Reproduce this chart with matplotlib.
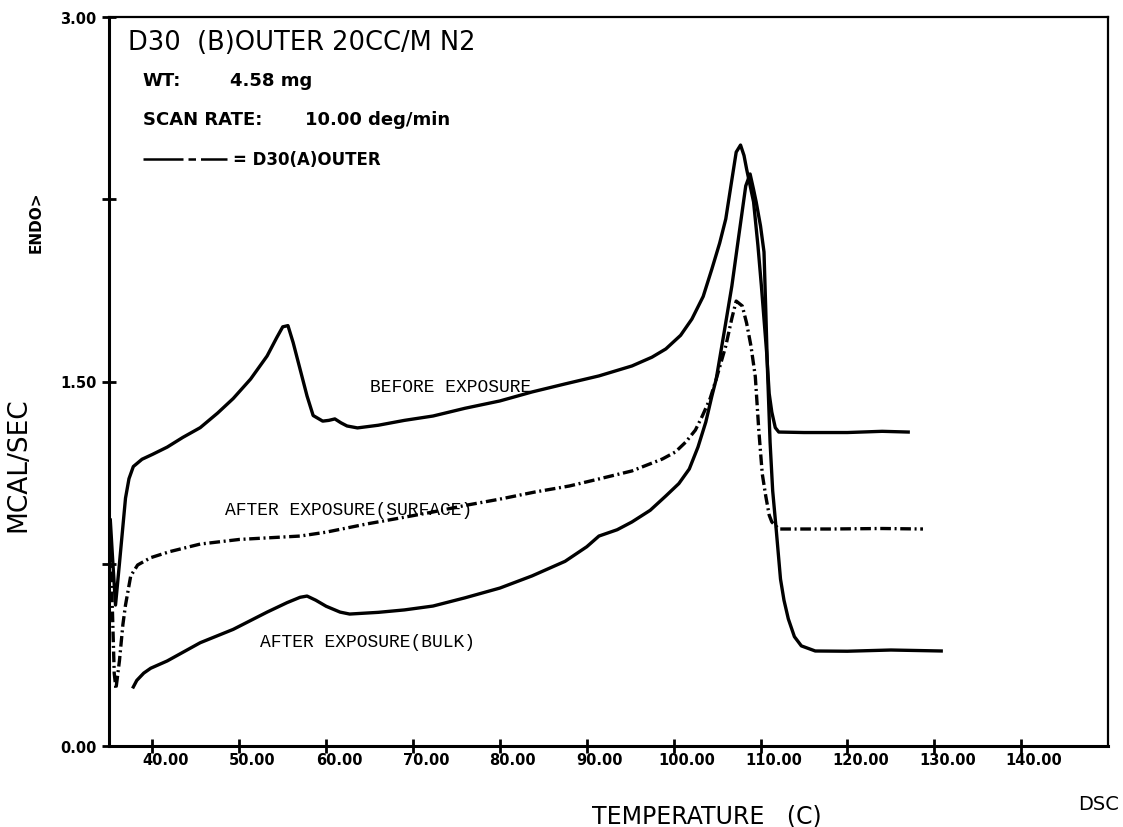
import matplotlib
matplotlib.use('Agg')
import matplotlib.pyplot as plt
from matplotlib.transforms import ScaledTranslation

# Traces (temperature C, mcal/sec)

before_t = [35.15, 35.4, 35.75, 36.2, 36.9, 37.3, 37.8, 38.8, 40.0, 41.7, 43.5, 45.5,
            47.5, 49.3, 51.3, 53.2, 54.3, 55.0, 55.6, 56.2, 57.0, 57.8, 58.5, 59.6,
            60.3, 61.0, 61.7, 62.4, 63.6, 66.0, 69.0, 72.3, 76.0, 80.0, 83.7, 87.5,
            91.4, 95.2, 97.5, 99.1, 100.8, 102.1, 103.4, 104.4, 105.3, 106.0, 106.7,
            107.2, 107.7, 108.1, 108.4, 109.2, 109.7, 110.1, 110.7, 111.0, 111.3,
            111.7, 112.1, 115.0, 120.0, 124.0, 127.0]
before_y = [0.93, 0.78, 0.58, 0.75, 1.02, 1.10, 1.15, 1.18, 1.20, 1.23, 1.27, 1.31,
            1.37, 1.43, 1.51, 1.605, 1.68, 1.725, 1.73, 1.66, 1.55, 1.44, 1.36, 1.337,
            1.34, 1.346, 1.33, 1.317, 1.309, 1.32, 1.34, 1.358, 1.39, 1.42, 1.457, 1.49,
            1.523, 1.564, 1.60, 1.634, 1.69, 1.757, 1.85, 1.963, 2.07, 2.169, 2.33,
            2.444, 2.473, 2.43, 2.374, 2.239, 2.06, 1.893, 1.621, 1.45, 1.374,
            1.31, 1.292, 1.29, 1.29, 1.295, 1.292]

surface_t = [35.15, 35.4, 35.6, 35.8, 36.2, 36.6, 36.9, 37.5, 38.3, 39.8, 42.0, 45.5,
             50.0, 55.0, 57.0, 60.0, 64.7, 68.0, 72.3, 76.0, 80.0, 84.0, 88.0, 91.4,
             95.2, 98.7, 100.2, 101.4, 102.5, 103.3, 104.2, 104.9, 106.0, 106.7, 107.2,
             107.9, 108.4, 108.9, 109.4, 109.8, 110.2, 110.6, 111.0, 111.3, 112.1,
             118.0, 124.0, 128.7]
surface_y = [0.80, 0.55, 0.30, 0.235, 0.35, 0.50, 0.58, 0.70, 0.745, 0.775, 0.80, 0.831,
             0.85, 0.86, 0.864, 0.88, 0.914, 0.935, 0.963, 0.99, 1.016, 1.045, 1.07, 1.099,
             1.132, 1.181, 1.21, 1.251, 1.30, 1.358, 1.43, 1.51, 1.646, 1.76, 1.831,
             1.811, 1.74, 1.646, 1.52, 1.30, 1.12, 1.029, 0.95, 0.922, 0.893,
             0.893, 0.895, 0.893]

bulk_t = [37.8, 38.2, 39.0, 39.8, 41.7, 45.5, 49.3, 53.2, 55.5, 57.0, 57.8, 58.8, 60.0,
          61.6, 62.7, 66.0, 69.0, 72.3, 76.0, 80.0, 83.7, 87.5, 90.0, 91.4, 93.5, 95.2,
          97.3, 99.1, 100.6, 101.8, 102.8, 103.7, 104.4, 104.9, 105.8, 106.7, 107.5,
          108.3, 108.8, 109.2, 109.5, 110.0, 110.4, 110.6, 110.8, 111.1, 111.4, 111.8,
          112.3, 112.7, 113.2, 113.9, 114.7, 116.3, 120.0, 125.0, 130.8]
bulk_y = [0.243, 0.27, 0.30, 0.32, 0.35, 0.425, 0.48, 0.551, 0.59, 0.612, 0.617, 0.60, 0.575,
          0.551, 0.543, 0.55, 0.56, 0.576, 0.61, 0.65, 0.70, 0.76, 0.82, 0.864, 0.89, 0.922,
          0.97, 1.029, 1.08, 1.14, 1.23, 1.333, 1.44, 1.51, 1.70, 1.893, 2.10,
          2.305, 2.354, 2.29, 2.239, 2.14, 2.033, 1.80, 1.55, 1.25, 1.05, 0.893,
          0.687, 0.60, 0.523, 0.45, 0.412, 0.391, 0.39, 0.395, 0.391]

x_ticks = [40, 50, 60, 70, 80, 90, 100, 110, 120, 130, 140]
x_tick_labels = ['40.00', '50.00', '60.00', '70.00', '80.00', '90.00', '100.00',
                 '110.00', '120.00', '130.00', '140.00']
y_ticks = [0, 0.75, 1.5, 2.25, 3.0]
y_tick_labels = ['0.00', '', '1.50', '', '3.00']

# Figure

fig = plt.figure(figsize=(11.23, 8.28), dpi=100)
ax = fig.add_axes([109 / 1123, 81 / 828, 999 / 1123, 729 / 828])

lw = 2.4
ax.plot(before_t, before_y, color='black', lw=lw, solid_joinstyle='round')
ax.plot(surface_t, surface_y, color='black', lw=lw, dashes=(3.2, 1.1, 0.6, 1.1))
ax.plot(bulk_t, bulk_y, color='black', lw=lw, solid_joinstyle='round')

ax.set_xlim(35, 150)
ax.set_ylim(0, 3)
ax.set_xticks(x_ticks)
ax.set_xticklabels(x_tick_labels, fontsize=10.5, fontweight='bold')
ax.set_yticks(y_ticks)
ax.set_yticklabels(y_tick_labels, fontsize=10.5, fontweight='bold')
ax.tick_params(axis='both', direction='inout', length=10, width=2)
ax.tick_params(axis='x', pad=-1)
ax.tick_params(axis='y', pad=4)
shift = ScaledTranslation(13 / 100, 0, fig.dpi_scale_trans)
for lab in ax.get_xticklabels():
    lab.set_transform(lab.get_transform() + shift)

for side in ['left', 'bottom']:
    ax.spines[side].set_linewidth(2.2)
for side in ['top', 'right']:
    ax.spines[side].set_linewidth(1.6)

# Header text inside the plot

ax.text(0.019, 0.966, 'D30  (B)OUTER 20CC/M N2', transform=ax.transAxes,
        fontsize=18.5, va='center')
ax.text(0.034, 0.914, 'WT:', transform=ax.transAxes, fontsize=13,
        fontweight='bold', va='center')
ax.text(0.121, 0.914, '4.58 mg', transform=ax.transAxes, fontsize=13,
        fontweight='bold', va='center')
ax.text(0.034, 0.860, 'SCAN RATE:', transform=ax.transAxes, fontsize=13,
        fontweight='bold', va='center')
ax.text(0.196, 0.860, '10.00 deg/min', transform=ax.transAxes, fontsize=13,
        fontweight='bold', va='center')
ax.plot([0.034, 0.118], [0.805, 0.805], transform=ax.transAxes, color='black',
        lw=1.8, dashes=(16, 2, 3, 2))
ax.text(0.124, 0.805, '= D30(A)OUTER', transform=ax.transAxes, fontsize=12,
        fontweight='bold', va='center')

# Curve labels

mono = 'Liberation Mono'
ax.text(0.261, 0.4925, 'BEFORE EXPOSURE', transform=ax.transAxes,
        fontsize=13, family=mono, va='center')
ax.text(0.116, 0.324, 'AFTER EXPOSURE(SURFACE)', transform=ax.transAxes,
        fontsize=13, family=mono, va='center')
ax.text(0.151, 0.143, 'AFTER EXPOSURE(BULK)', transform=ax.transAxes,
        fontsize=13, family=mono, va='center')

# Outer labels

fig.text(18 / 1123, 1 - 465 / 828, 'MCAL/SEC', rotation=90, fontsize=19,
         ha='center', va='center')
fig.text(36 / 1123, 1 - 222 / 828, 'ENDO>', rotation=90, fontsize=11,
         fontweight='bold', ha='center', va='center')
fig.text(707 / 1123, 1 - 817 / 828, 'TEMPERATURE   (C)', fontsize=17,
         ha='center', va='center')
fig.text(1099 / 1123, 1 - 805 / 828, 'DSC', fontsize=14, ha='center', va='center')

fig.savefig('out.png', dpi=100)
